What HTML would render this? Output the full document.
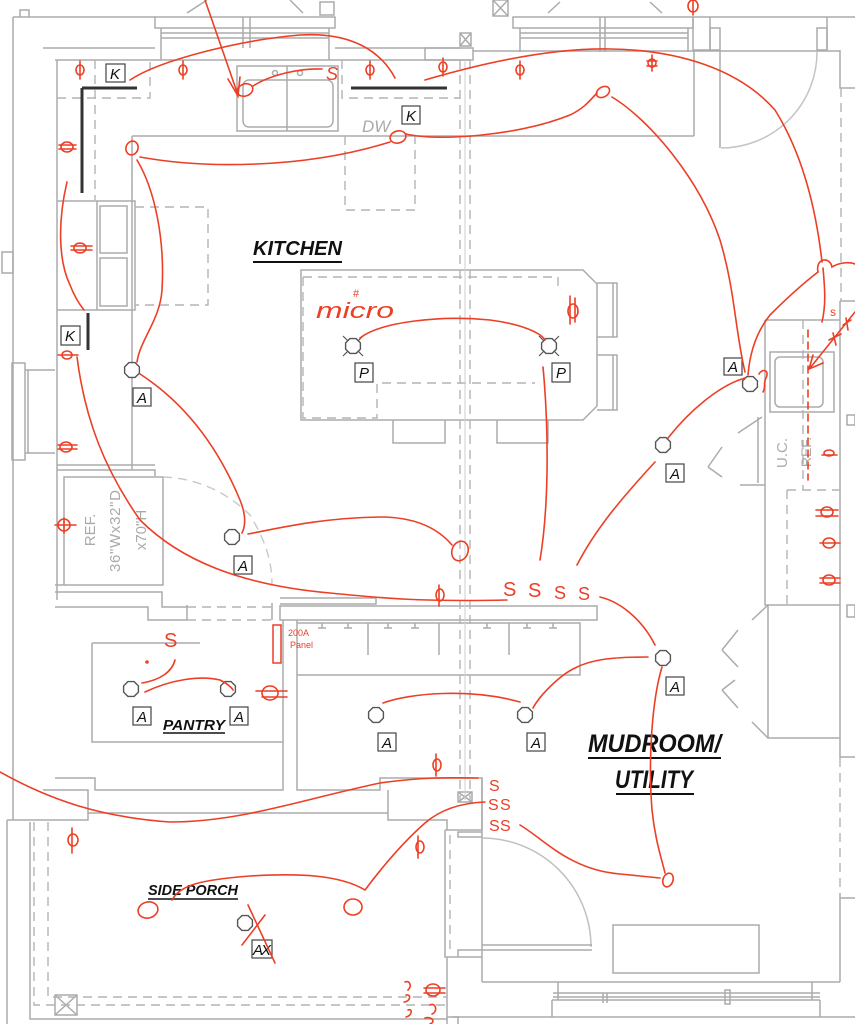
<!DOCTYPE html>
<html><head><meta charset="utf-8"><style>
html,body{margin:0;padding:0;background:#fff;}
svg{display:block;}
.g{fill:none;stroke:#ababab;stroke-width:1.5;}
.gd{fill:none;stroke:#b4b4b4;stroke-width:1.4;stroke-dasharray:9 6;}
.k{fill:none;stroke:#333;stroke-width:3;}
.r{fill:none;stroke:#ec3f25;stroke-width:1.6;stroke-linecap:round;}
.lb{fill:#fff;stroke:#444;stroke-width:1.2;}
.lt{font-family:"Liberation Sans",sans-serif;font-style:italic;font-size:15px;fill:#111;}
.oc{fill:#fff;stroke:#555;stroke-width:1.4;}
.ttl{font-family:"Liberation Sans",sans-serif;font-weight:bold;font-style:italic;fill:#111;}
.rt{font-family:"Liberation Sans",sans-serif;fill:#ec3f25;}
.gt{font-family:"Liberation Sans",sans-serif;fill:#aaa;}
</style></head><body>
<svg width="855" height="1024" viewBox="0 0 855 1024" xmlns="http://www.w3.org/2000/svg">
<rect width="855" height="1024" fill="#fff"/>
<!-- ===== STRUCTURE ===== -->
<g class="g">
<!-- top left -->
<path d="M13,17 H155 M13,17 V820 M20,10 h9 v7 h-9z M43,48 H155 M335,48 H460 M55,60 H470"/>
<path d="M2,252 h11 v21 h-11z"/>
<!-- left window -->
<path d="M12,363 h13 v97 h-13z M25,370 H55 M25,453 H55 M28,370 v83"/>
<!-- top window 1 -->
<path d="M155,17 h180 v11 h-180z M161,28 V60 M329,28 V60 M161,33 H329 M161,38 H329 M243,17 v31 M250,17 v31"/>
<path d="M187,13 L207,0 M290,0 L303,13 M320,2 h14 v13 h-14z"/>
<!-- top middle -->
<path d="M460,33 h11 v13 h-11z M460,33 l11,13 M471,33 l-11,13 M425,48 h48 v12 h-48z M493,0 h15 v16 h-15z M493,0 l15,16 M508,0 l-15,16"/>
<!-- top window 2 -->
<path d="M513,17 h180 v11 h-180z M520,28 V52 M688,28 V52 M520,33 H688 M520,38 H688 M600,17 v35 M605,17 v35"/>
<path d="M548,13 L560,2 M650,2 L662,13"/>
<path d="M693,17 h17 v33 h-17z M710,17 H855 M827,17 V50 M840,50 V88 H855"/>
<path d="M473,51 H840 M720,28 V148 M710,28 h10 v22 h-10z M817,28 h10 v22 h-10z"/>
<path d="M721,148 A96,96 0 0 0 817,52" stroke="#c4c4c4"/>
<path d="M694,51 V136 M132,136 H694"/>
<!-- kitchen left counter -->
<path d="M57,60 V600 M132,136 V470"/>
<path d="M57,201 H135 M57,310 H135 M97,201 h38 v109 h-38z M100,206 h27 v47 h-27z M100,258 h27 v48 h-27z"/>
<path d="M57,465 H155 M57,470 H155 V476"/>
<!-- sink -->
<path d="M237,66 h101 v65 h-101z M287,66 V131"/>
<rect x="243" y="80" width="90" height="47" rx="6"/>
<circle cx="275" cy="73" r="2.5"/><circle cx="300" cy="73" r="2.5"/>
<!-- REF box -->
<path d="M64,477 h99 v108 h-99z M55,585 H155 M55,592 H162 V607 H187 M55,607 H148 V620 H187 V605"/>
<path d="M272,603 V620 M280,598 H376 V604 H280"/>
<rect x="280" y="606" width="317" height="14"/>
<!-- pantry -->
<path d="M92,643 H200 M92,643 V742 H283 M55,778 H95 V790 H283 V620 M297,620 V790 H380 V778 H482 V830 M388,790 V820 H447 V830"/>
<path d="M297,623 H580 V675 H297 M368,623 V655 M439,623 V655 M509,623 V655"/>
<path d="M322,623 v5 m-4,0 h8 M348,623 v5 m-4,0 h8 M388,623 v5 m-4,0 h8 M415,623 v5 m-4,0 h8 M487,623 v5 m-4,0 h8 M527,623 v5 m-4,0 h8 M553,623 v5 m-4,0 h8"/>
<path d="M458,792 h14 v10 h-14z M458,792 l14,10 M472,792 l-14,10"/>
<!-- porch -->
<path d="M43,790 H88 V820 H7 M7,820 V1024 M88,813 H388 M30,822 V1019 H447 M55,995 h22 v20 h-22z M55,995 l22,20 M77,995 l-22,20"/>
<!-- island -->
<path d="M301,270 H583 L597,284 V406 L583,420 H301 Z"/>
<path d="M597,283 h20 v54 h-20 M597,355 h20 v55 h-20 M613,283 V337 M613,355 V410"/>
<path d="M393,420 V443 H445 V420 M497,420 V443 H548 V420"/>
<!-- right counter -->
<path d="M765,320 H840 M765,320 V605 H840 M840,301 V758 M840,301 H855 M840,893 V982 M840,898 H855 M840,757 H855"/>
<path d="M770,352 h64 v60 h-64z"/>
<rect x="775" y="357" width="48" height="50" rx="5"/>
<path d="M847,415 h8 v10 h-8z M847,605 h8 v12 h-8z"/>
<path d="M738,433 L762,417 M708,467 L722,447 M708,467 L722,477 M740,485 H765 M758,417 V483"/>
<path d="M722,650 L738,630 M722,650 L738,667 M752,620 L768,605 M722,690 L735,680 M722,690 L738,708 M752,722 L768,738 M768,605 V738 H840"/>
<!-- mudroom door & bottom -->
<path d="M445,830 H482 M445,830 V957 H482 M482,778 V982 M458,832 h24 v5 h-24z M458,950 h24 v7 h-24z M447,957 V1024"/>
<path d="M482,838 A109,109 0 0 1 591,947" stroke="#c0c0c0"/>
<path d="M482,945 H592 M482,950 H592"/>
<path d="M482,982 H840 M558,982 V1000 M812,982 V1000 M553,993 H820 M553,997 H820 M552,1000 H820 M552,1000 V1017 M820,1000 V1017 M447,1017 H855 M613,925 h146 v48 h-146z M603,993 v10 M607,993 v10 M725,990 h5 v14 h-5z"/>
<path d="M452,1017 h6 v7"/>
</g>
<!-- dashed -->
<g class="gd">
<path d="M460,60 V800 M470,60 V800"/>
<path d="M57,98 H150 V60 M342,60 V98 H460 M95,60 V200 M132,136 V200"/>
<path d="M135,207 H208 V305 H135"/>
<path d="M345,136 V210 H415 V136"/>
<path d="M303,277 H558 V290 M303,277 V418 H377 V383 H535"/>
<path d="M187,607 H272 M187,620 H272"/>
<path d="M163,477 C200,478 230,495 250,515 C265,540 272,560 272,585" stroke="#c8c8c8"/>
<path d="M787,490 V605 M787,490 H840 M803,320 V490"/>
<path d="M841,88 V301 M840,758 V893"/>
<path d="M34,822 V1005 H447 M48,822 V997 H447"/>
<path d="M450,835 V950"/>
</g>
<path d="M465,60 V800" stroke="#cfcfcf" stroke-width="1" fill="none"/>
<!-- black cabinet lines -->
<path class="k" d="M82,88 H137 M82,88 V193 M351,88 H447 M88,313 V350"/>
<!-- ===== LABELS ===== -->
<g>
<rect class="lb" x="106" y="64" width="19" height="18"/><text class="lt" x="110" y="79">K</text>
<rect class="lb" x="402" y="106" width="18" height="18"/><text class="lt" x="406" y="121">K</text>
<rect class="lb" x="61" y="326" width="19" height="19"/><text class="lt" x="65" y="341">K</text>
<text x="362" y="132" font-family="Liberation Sans, sans-serif" font-style="italic" font-size="17" fill="#aaa">DW</text>
<rect class="lb" x="133" y="388" width="18" height="18"/><text class="lt" x="137" y="403">A</text>
<rect class="lb" x="234" y="556" width="18" height="18"/><text class="lt" x="238" y="571">A</text>
<rect class="lb" x="133" y="707" width="18" height="18"/><text class="lt" x="137" y="722">A</text>
<rect class="lb" x="230" y="707" width="18" height="18"/><text class="lt" x="234" y="722">A</text>
<rect class="lb" x="378" y="733" width="18" height="18"/><text class="lt" x="382" y="748">A</text>
<rect class="lb" x="527" y="733" width="18" height="18"/><text class="lt" x="531" y="748">A</text>
<rect class="lb" x="666" y="677" width="18" height="18"/><text class="lt" x="670" y="692">A</text>
<rect class="lb" x="666" y="464" width="18" height="18"/><text class="lt" x="670" y="479">A</text>
<rect class="lb" x="724" y="358" width="18" height="17"/><text class="lt" x="728" y="372">A</text>
<rect class="lb" x="355" y="363" width="18" height="19"/><text class="lt" x="359" y="378">P</text>
<rect class="lb" x="552" y="363" width="18" height="19"/><text class="lt" x="556" y="378">P</text>
<rect class="lb" x="252" y="940" width="20" height="18"/><text class="lt" x="253" y="955" textLength="18">AX</text>
</g>
<!-- fixtures -->
<g class="oc">
<polygon transform="translate(132,370)" points="7.4,3.1 3.1,7.4 -3.1,7.4 -7.4,3.1 -7.4,-3.1 -3.1,-7.4 3.1,-7.4 7.4,-3.1"/>
<polygon transform="translate(232,537)" points="7.4,3.1 3.1,7.4 -3.1,7.4 -7.4,3.1 -7.4,-3.1 -3.1,-7.4 3.1,-7.4 7.4,-3.1"/>
<polygon transform="translate(131,689)" points="7.4,3.1 3.1,7.4 -3.1,7.4 -7.4,3.1 -7.4,-3.1 -3.1,-7.4 3.1,-7.4 7.4,-3.1"/>
<polygon transform="translate(228,689)" points="7.4,3.1 3.1,7.4 -3.1,7.4 -7.4,3.1 -7.4,-3.1 -3.1,-7.4 3.1,-7.4 7.4,-3.1"/>
<polygon transform="translate(376,715)" points="7.4,3.1 3.1,7.4 -3.1,7.4 -7.4,3.1 -7.4,-3.1 -3.1,-7.4 3.1,-7.4 7.4,-3.1"/>
<polygon transform="translate(525,715)" points="7.4,3.1 3.1,7.4 -3.1,7.4 -7.4,3.1 -7.4,-3.1 -3.1,-7.4 3.1,-7.4 7.4,-3.1"/>
<polygon transform="translate(663,658)" points="7.4,3.1 3.1,7.4 -3.1,7.4 -7.4,3.1 -7.4,-3.1 -3.1,-7.4 3.1,-7.4 7.4,-3.1"/>
<polygon transform="translate(663,445)" points="7.4,3.1 3.1,7.4 -3.1,7.4 -7.4,3.1 -7.4,-3.1 -3.1,-7.4 3.1,-7.4 7.4,-3.1"/>
<polygon transform="translate(750,384)" points="7.4,3.1 3.1,7.4 -3.1,7.4 -7.4,3.1 -7.4,-3.1 -3.1,-7.4 3.1,-7.4 7.4,-3.1"/>
<polygon transform="translate(245,923)" points="7.4,3.1 3.1,7.4 -3.1,7.4 -7.4,3.1 -7.4,-3.1 -3.1,-7.4 3.1,-7.4 7.4,-3.1"/>
<polygon transform="translate(353,346)" points="7.4,3.1 3.1,7.4 -3.1,7.4 -7.4,3.1 -7.4,-3.1 -3.1,-7.4 3.1,-7.4 7.4,-3.1"/>
<polygon transform="translate(549,346)" points="7.4,3.1 3.1,7.4 -3.1,7.4 -7.4,3.1 -7.4,-3.1 -3.1,-7.4 3.1,-7.4 7.4,-3.1"/>
</g>
<path d="M343,336 l5,5 M363,336 l-5,5 M343,356 l5,-5 M363,356 l-5,-5 M539,336 l5,5 M559,336 l-5,5 M539,356 l5,-5 M559,356 l-5,-5" stroke="#555" stroke-width="1.2" fill="none"/>
<!-- titles -->
<text class="ttl" x="253" y="255" font-size="20" textLength="89" lengthAdjust="spacingAndGlyphs">KITCHEN</text>
<path d="M253,262 H342" stroke="#111" stroke-width="2"/>
<text class="ttl" x="588" y="752" font-size="25" textLength="133" lengthAdjust="spacingAndGlyphs">MUDROOM/</text>
<path d="M588,758 H721" stroke="#111" stroke-width="2"/>
<text class="ttl" x="615" y="788" font-size="25" textLength="78" lengthAdjust="spacingAndGlyphs">UTILITY</text>
<path d="M616,794 H694" stroke="#111" stroke-width="2"/>
<text class="ttl" x="163" y="730" font-size="15" textLength="62" lengthAdjust="spacingAndGlyphs">PANTRY</text>
<path d="M163,733 H225" stroke="#111" stroke-width="1.6"/>
<text class="ttl" x="148" y="895" font-size="15" textLength="90" lengthAdjust="spacingAndGlyphs">SIDE PORCH</text>
<path d="M148,899 H238" stroke="#111" stroke-width="1.6"/>
<!-- gray rotated text -->
<text class="gt" font-size="15" transform="translate(95,530) rotate(-90)" text-anchor="middle">REF.</text>
<text class="gt" font-size="15" transform="translate(120,531) rotate(-90)" text-anchor="middle" textLength="82">36"Wx32"D</text>
<text class="gt" font-size="15" transform="translate(146,530) rotate(-90)" text-anchor="middle">x70"H</text>
<text class="gt" font-size="15" transform="translate(787,453) rotate(-90)" text-anchor="middle">U.C.</text>
<text class="gt" font-size="14" transform="translate(811,452) rotate(-90)" text-anchor="middle">REF.</text>
<!-- ===== RED ANNOTATIONS ===== -->
<g class="r">
<path d="M205,0 L238,95 M228,79 L238,96 L240,77"/>
<path d="M130,80 C160,60 240,40 300,35 C350,32 380,50 395,78"/>
<ellipse cx="245" cy="90" rx="8" ry="6" transform="rotate(-20 245 90)"/>
<path d="M253,86 C270,75 300,68 322,69"/>
<path d="M425,80 C500,58 560,48 610,49 C680,50 740,70 775,110 C800,150 815,200 822,262"/>
<path d="M818,272 C815,258 830,256 832,267 C840,262 850,262 855,264"/>
<path d="M823,268 C825,290 826,305 822,322"/>
<path d="M818,272 C805,282 790,295 770,315 C758,330 750,350 748,375"/>
<ellipse cx="132" cy="148" rx="6" ry="7" transform="rotate(20 132 148)"/>
<path d="M140,157 C200,168 300,170 390,142"/>
<ellipse cx="398" cy="137" rx="8" ry="6" transform="rotate(-15 398 137)"/>
<path d="M406,134 C440,142 520,135 570,115 C585,108 592,98 597,93"/>
<ellipse cx="603" cy="92" rx="7" ry="5" transform="rotate(-30 603 92)"/>
<path d="M612,97 C650,120 700,180 720,240 C735,290 735,330 745,372"/>
<path d="M137,160 C155,190 165,240 162,290 C160,320 140,340 137,362"/>
<path d="M67,182 C58,220 58,260 70,285 C75,298 80,305 84,310"/>
<path d="M77,357 C85,420 105,470 140,520 C180,560 240,585 330,593 C380,598 420,602 507,600"/>
<path d="M140,374 C180,400 215,440 240,500 C246,515 246,525 242,533"/>
<path d="M248,534 C280,528 320,518 380,517 C410,517 435,525 452,545"/>
<ellipse cx="460" cy="551" rx="8" ry="10" transform="rotate(20 460 551)"/>
<path d="M360,338 C380,322 440,315 490,320 C520,324 540,332 545,340"/>
<path d="M543,367 C548,420 550,500 540,560"/>
<path d="M745,378 C720,385 690,410 668,438 M655,462 C620,500 595,530 577,565"/>
<path d="M600,597 C625,603 645,625 655,645"/>
<path d="M648,657 C610,657 590,660 575,668 C560,675 540,695 533,708"/>
<path d="M662,667 C652,700 648,760 652,810 C655,840 662,860 665,873"/>
<ellipse cx="668" cy="880" rx="5" ry="7" transform="rotate(20 668 880)"/>
<path d="M520,825 C545,840 570,870 620,874 C640,876 650,877 660,878"/>
<path d="M383,703 C410,693 470,688 520,702"/>
<path d="M142,683 C160,680 172,672 175,660"/>
<path d="M145,692 C170,680 200,675 220,680 C228,684 232,688 233,690"/>
<path d="M0,772 C50,800 100,817 170,822 C240,822 300,800 380,783 C430,776 460,778 478,778"/>
<path d="M485,802 C460,803 440,810 425,823 C400,845 380,870 365,890 C340,875 300,873 250,876 C200,880 180,885 172,900"/>
<ellipse cx="148" cy="910" rx="10" ry="8" transform="rotate(-15 148 910)"/>
<ellipse cx="353" cy="907" rx="9" ry="8"/>
<path d="M248,905 L275,963 M265,915 L242,945"/>
<path d="M855,312 L810,368 M813,355 L809,369 L823,363"/>
<path d="M829,340 l12,-6 M833,333 l3,12 M843,325 l8,-5 M846,318 l2,12"/>
<path d="M808,330 V480" stroke-dasharray="7 5"/>
<path d="M759,374 C762,368 770,370 766,378 C763,383 766,388 763,392"/>
<!-- outlet symbols (phi style) -->
<g>
<ellipse cx="80" cy="70" rx="4" ry="5"/><path d="M80,61 V79"/>
<ellipse cx="183" cy="70" rx="4" ry="5"/><path d="M183,61 V79"/>
<ellipse cx="370" cy="70" rx="4" ry="5"/><path d="M370,61 V79"/>
<ellipse cx="443" cy="67" rx="4" ry="5"/><path d="M443,58 V76"/>
<ellipse cx="520" cy="70" rx="4" ry="5"/><path d="M520,61 V79"/>
<ellipse cx="652" cy="63" rx="4" ry="4"/><path d="M652,55 V71 M647,61 h10 M647,66 h10"/>
<ellipse cx="693" cy="6" rx="5" ry="6"/><path d="M693,-3 V15"/>
<ellipse cx="73" cy="840" rx="5" ry="6"/><path d="M72,828 V853"/>
<ellipse cx="420" cy="847" rx="4" ry="6"/><path d="M418,836 V858"/>
<ellipse cx="437" cy="765" rx="4" ry="6"/><path d="M436,754 V776"/>
<ellipse cx="440" cy="595" rx="4" ry="6"/><path d="M439,585 V606"/>
<ellipse cx="573" cy="311" rx="5" ry="7"/><path d="M570,296 V324 M575,298 V322"/>
<ellipse cx="67" cy="355" rx="5" ry="4"/><path d="M58,355 H78"/>
<ellipse cx="147" cy="662" rx="1" ry="1"/>
</g>
<!-- double-line outlets -->
<g>
<ellipse cx="67" cy="147" rx="6" ry="5"/><path d="M59,145 H76 M59,149 H76"/>
<ellipse cx="80" cy="248" rx="6" ry="5"/><path d="M71,246 H92 M71,250 H92"/>
<ellipse cx="66" cy="447" rx="6" ry="5"/><path d="M58,445 H77 M58,449 H77"/>
<ellipse cx="64" cy="525" rx="6" ry="6"/><path d="M55,525 H76 M64,518 V533"/>
<ellipse cx="270" cy="693" rx="8" ry="7"/><path d="M256,691 H287 M262,697 H287"/>
<ellipse cx="829" cy="453" rx="5" ry="3"/><path d="M822,455 H837"/>
<ellipse cx="827" cy="512" rx="6" ry="5"/><path d="M816,510 H838 M816,516 H838"/>
<ellipse cx="829" cy="543" rx="6" ry="5"/><path d="M820,543 H840"/>
<ellipse cx="829" cy="580" rx="6" ry="5"/><path d="M820,578 H840 M820,583 H840"/>
<ellipse cx="433" cy="990" rx="7" ry="6"/><path d="M424,988 H445 M424,993 H445"/>
</g>
<path d="M405,982 C410,980 412,986 408,990 M406,995 C412,994 410,1002 404,1002 M408,1010 C413,1008 412,1016 406,1017 M430,1005 C436,1002 438,1012 432,1014 M425,1018 C432,1016 436,1022 430,1024"/>
<rect x="273" y="625" width="8" height="38" stroke-width="1.5"/>
</g>
<!-- red text -->
<text class="rt" x="326" y="80" font-size="18" font-style="italic">S</text>
<text class="rt" x="503" y="596" font-size="20">S</text>
<text class="rt" x="528" y="597" font-size="20">S</text>
<text class="rt" x="554" y="599" font-size="18">S</text>
<text class="rt" x="578" y="600" font-size="18">S</text>
<text class="rt" x="164" y="647" font-size="20">S</text>
<text class="rt" x="489" y="791" font-size="16">S</text>
<text class="rt" x="488" y="810" font-size="16">S</text>
<text class="rt" x="500" y="810" font-size="16">S</text>
<text class="rt" x="489" y="831" font-size="16">S</text>
<text class="rt" x="500" y="831" font-size="16">S</text>
<text class="rt" x="316" y="318" font-size="22" font-style="italic" textLength="78" lengthAdjust="spacingAndGlyphs">micro</text>
<text class="rt" x="353" y="297" font-size="11">#</text>
<text class="rt" x="288" y="636" font-size="9">200A</text>
<text class="rt" x="290" y="648" font-size="9">Panel</text>
<text class="rt" x="830" y="316" font-size="12">s</text>
</svg>
</body></html>
